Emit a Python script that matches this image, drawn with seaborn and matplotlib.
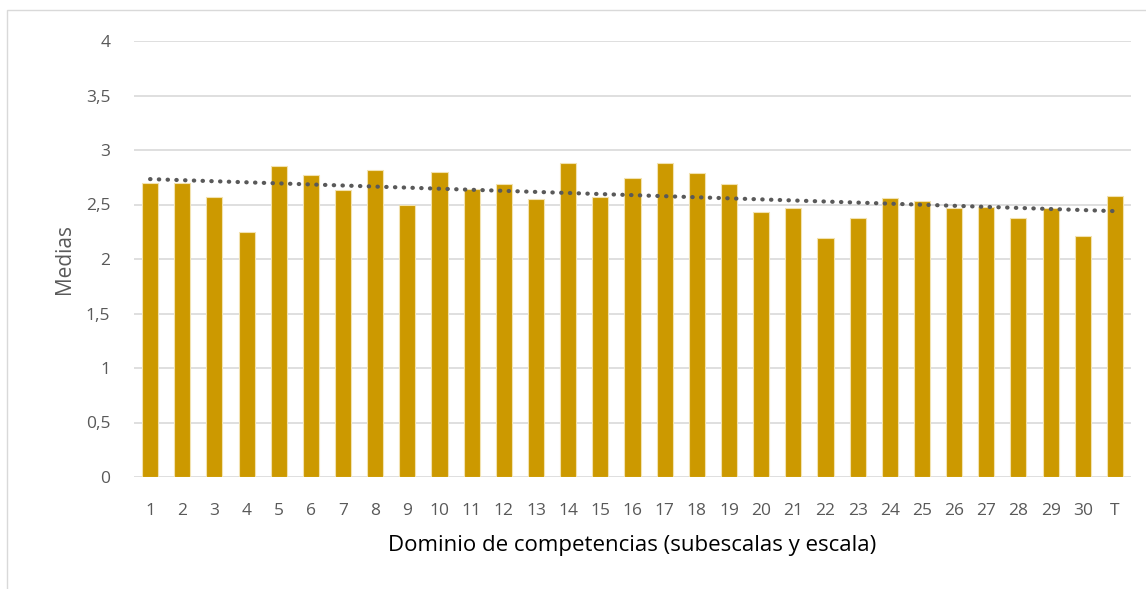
import numpy as np
import pandas as pd
import matplotlib
matplotlib.use("Agg")
import matplotlib.pyplot as plt
import seaborn as sns
from matplotlib.patches import Rectangle

# data
dominios = [str(i) for i in range(1, 31)] + ["T"]
medias = [2.70, 2.70, 2.57, 2.25, 2.85, 2.77, 2.63, 2.82, 2.50, 2.80,
          2.64, 2.69, 2.55, 2.88, 2.57, 2.74, 2.88, 2.79, 2.69, 2.43,
          2.47, 2.19, 2.38, 2.56, 2.53, 2.47, 2.48, 2.38, 2.47, 2.21,
          2.58]
yticks = [0, 0.5, 1, 1.5, 2, 2.5, 3, 3.5, 4]
ytick_labels = ["0", "0,5", "1", "1,5", "2", "2,5", "3", "3,5", "4"]

df = pd.DataFrame({"Dominio": dominios, "Media": medias})

sns.set_style("white")
plt.rcParams["font.family"] = ["Open Sans", "DejaVu Sans"]

fig = plt.figure(figsize=(11.46, 5.89), dpi=100)
ax = fig.add_axes([134 / 1146, 1 - 477 / 589, (1131 - 134) / 1146, (477 - 41) / 589])

sns.barplot(data=df, x="Dominio", y="Media", order=dominios, color="#CC9900",
            saturation=1, width=0.5, edgecolor="#F2E2B0", linewidth=0.8, ax=ax)

# linear trend line (like Excel's)
xs = np.arange(len(medias))
coef = np.polyfit(xs, medias, 1)
ax.plot(xs, np.polyval(coef, xs), linestyle=(0, (0.1, 2.0)), color="#595959",
        linewidth=3.0, dash_capstyle="round", zorder=5)

ax.set_ylim(0, 4)
ax.set_xlim(-0.5, len(medias) - 0.5)
ax.set_yticks(yticks)
ax.set_yticklabels(ytick_labels)
ax.yaxis.grid(True, color="#D9D9D9", linewidth=1.2)
ax.set_axisbelow(True)
for s in ax.spines.values():
    s.set_visible(False)
ax.tick_params(axis="both", length=0, colors="#595959", labelsize=12.5)
ax.tick_params(axis="y", pad=17)
ax.tick_params(axis="x", pad=19)

ax.set_ylabel("Medias", fontsize=15, color="#595959", labelpad=8)
ax.set_xlabel("Dominio de competencias (subescalas y escala)", fontsize=16,
              color="#000000", labelpad=11)

# chart border
fig.patches.append(Rectangle((7 / 1146, -0.01), 1.1, 1 - 10 / 589 + 0.01,
                             transform=fig.transFigure, fill=False,
                             edgecolor="#D9D9D9", linewidth=1))

fig.savefig("out.png", dpi=100)
